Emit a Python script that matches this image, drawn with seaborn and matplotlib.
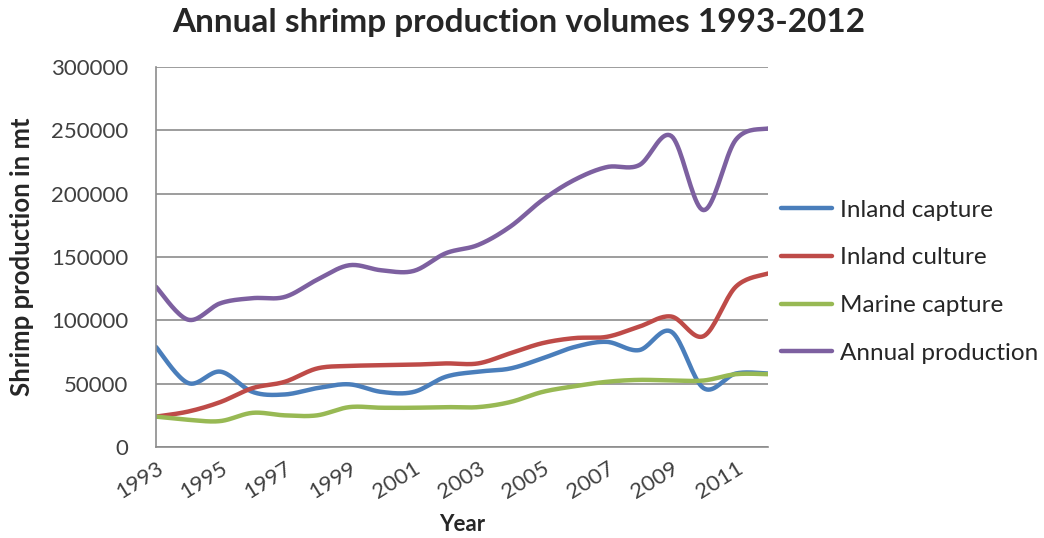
import numpy as np
import pandas as pd
import matplotlib
matplotlib.use('Agg')
from matplotlib import pyplot as plt
import seaborn as sns

# values (metric tonnes)
years = list(range(1993, 2013))
inland_capture = [79000, 50500, 59500, 43500, 41500, 46500, 49500, 43500, 43500, 55500,
                  59500, 62000, 70000, 79000, 83000, 76500, 91000, 46500, 58000, 58000]
inland_culture = [24000, 28000, 35500, 46500, 51500, 62000, 64000, 64500, 65000, 66000,
                  66000, 74000, 82000, 86000, 87000, 95000, 103000, 87500, 126500, 137000]
marine_capture = [24000, 21500, 20500, 27000, 25000, 25000, 31500, 31000, 31000, 31500,
                  31500, 35500, 43500, 48000, 51500, 53000, 52500, 52500, 57500, 57500]
annual_production = [126500, 100500, 113500, 117500, 118500, 132000, 143500, 139500, 139000, 153000,
                     159500, 174000, 195000, 211000, 221000, 222500, 245500, 187000, 242500, 251500]

series_names = ['Inland capture', 'Inland culture', 'Marine capture', 'Annual production']
series_colors = ['#4A7EBB', '#BE4B48', '#98B954', '#7D60A0']


def smooth(x, y, n=20):
    # Catmull-Rom style rendering of a smoothed line (like a spreadsheet "smooth line")
    x = np.asarray(x, float)
    y = np.asarray(y, float)
    px = np.concatenate([[x[0]], x, [x[-1]]])
    py = np.concatenate([[y[0]], y, [y[-1]]])
    xs, ys = [], []
    t = np.linspace(0, 1, n, endpoint=False)
    for i in range(1, len(px) - 2):
        p0, p1, p2, p3 = py[i - 1], py[i], py[i + 1], py[i + 2]
        q0, q1, q2, q3 = px[i - 1], px[i], px[i + 1], px[i + 2]
        c1y, c2y = p1 + (p2 - p0) / 6, p2 - (p3 - p1) / 6
        c1x, c2x = q1 + (q2 - q0) / 6, q2 - (q3 - q1) / 6
        b = [(1 - t) ** 3, 3 * (1 - t) ** 2 * t, 3 * (1 - t) * t ** 2, t ** 3]
        xs.append(b[0] * q1 + b[1] * c1x + b[2] * c2x + b[3] * q2)
        ys.append(b[0] * p1 + b[1] * c1y + b[2] * c2y + b[3] * p2)
    xs.append([x[-1]])
    ys.append([y[-1]])
    return np.concatenate(xs), np.concatenate(ys)


sns.set_theme(style='white')
plt.rcParams['font.family'] = ['Lato', 'DejaVu Sans']

fig = plt.figure(figsize=(10.44, 5.38), dpi=100)
ax = fig.add_axes([0.1494, 0.1691, 0.5862, 0.7064])

all_series = [inland_capture, inland_culture, marine_capture, annual_production]
for name, vals, col in zip(series_names, all_series, series_colors):
    sx, sy = smooth(years, vals)
    sns.lineplot(x=sx, y=sy, ax=ax, color=col, linewidth=3.2, label=name, sort=False)

tick_col = '#404040'
ax.set_xlim(1993, 2012)
ax.set_ylim(0, 300000)
ax.set_yticks(range(0, 300001, 50000))
ax.set_yticklabels([str(v) for v in range(0, 300001, 50000)], fontsize=16, color=tick_col)
ax.set_xticks(years[::2])
ax.set_xticklabels([str(y) for y in years[::2]], rotation=32, fontsize=16, ha='right',
                   rotation_mode='anchor', color=tick_col)
ax.tick_params(axis='x', pad=8, length=0)
ax.tick_params(axis='y', pad=20, length=0)

ax.grid(axis='y', color='#8C8C8C', linewidth=1.2)
for s in ['top', 'right']:
    ax.spines[s].set_visible(False)
for s in ['left', 'bottom']:
    ax.spines[s].set_color('#8C8C8C')
    ax.spines[s].set_linewidth(1.2)

ax.set_xlabel('Year', fontsize=16, fontweight='bold', labelpad=8)
ax.set_ylabel('Shrimp production in mt', fontsize=18.5, fontweight='bold', labelpad=12)
fig.suptitle('Annual shrimp production volumes 1993-2012', fontsize=24, fontweight='bold',
             x=0.497, y=0.985)

ax.legend(loc='center left', bbox_to_anchor=(1.021, 0.435), frameon=False, fontsize=17.5,
          handlelength=2.1, labelspacing=1.1, handletextpad=0.35,
          borderaxespad=0, borderpad=0)

fig.savefig('out.png', dpi=100)
